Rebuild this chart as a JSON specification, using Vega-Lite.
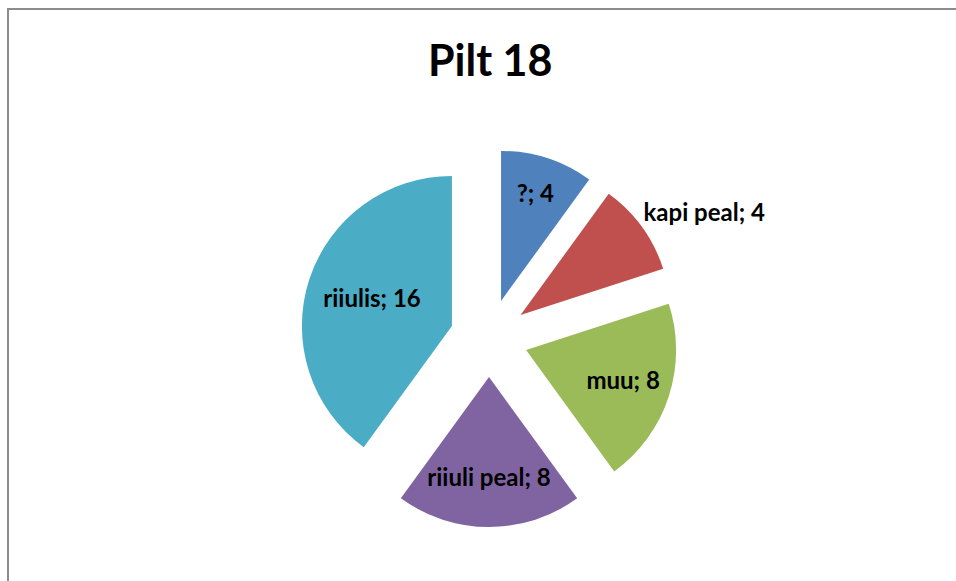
{
  "$schema": "https://vega.github.io/schema/vega-lite/v6.json",
  "width": 952,
  "height": 576,
  "autosize": {"type": "none"},
  "padding": {"left": 8, "top": 9, "right": 0, "bottom": 0},
  "background": "white",
  "title": {"text": "Pilt 18", "font": "Lato", "fontSize": 43, "fontWeight": "bold", "color": "black", "anchor": "start", "frame": "group", "baseline": "alphabetic", "offset": -110, "dx": 420},
  "config": {"view": {"stroke": "#8c8c8c", "strokeWidth": 2}},
  "data": {"values": [
    {"nr": 1, "cat": "?", "value": 4},
    {"nr": 2, "cat": "kapi peal", "value": 4},
    {"nr": 3, "cat": "muu", "value": 8},
    {"nr": 4, "cat": "riiuli peal", "value": 8},
    {"nr": 5, "cat": "riiulis", "value": 16}
  ]},
  "transform": [
    {"window": [{"op": "sum", "field": "value", "as": "t1"}], "sort": [{"field": "nr"}], "frame": [null, 0]},
    {"joinaggregate": [{"op": "sum", "field": "value", "as": "total"}]},
    {"calculate": "datum.t1 - datum.value", "as": "t0"},
    {"calculate": "2*PI*(datum.t1 - datum.value/2)/datum.total", "as": "mid"},
    {"calculate": "39*sin(datum.mid)", "as": "cx"},
    {"calculate": "39*cos(datum.mid)", "as": "cy"},
    {"calculate": "datum.cat === 'kapi peal' ? 152 : 120 - 2.25*datum.value", "as": "lr"},
    {"calculate": "datum.cx + datum.lr*sin(datum.mid)", "as": "lx"},
    {"calculate": "datum.cy + datum.lr*cos(datum.mid)", "as": "ly"},
    {"calculate": "datum.cat + '; ' + datum.value", "as": "label"}
  ],
  "layer": [
    {
      "mark": {"type": "arc", "outerRadius": 150},
      "encoding": {
        "x": {"field": "cx", "type": "quantitative", "scale": {"domain": [-481, 471], "nice": false, "zero": false}, "axis": null, "stack": null},
        "y": {"field": "cy", "type": "quantitative", "scale": {"domain": [-247, 329], "nice": false, "zero": false}, "axis": null, "stack": null},
        "theta": {"field": "t0", "type": "quantitative", "scale": {"domain": [0, 40]}, "stack": null},
        "theta2": {"field": "t1"},
        "color": {"field": "cat", "type": "nominal", "legend": null,
          "scale": {"domain": ["?", "kapi peal", "muu", "riiuli peal", "riiulis"], "range": ["#4F81BD", "#C0504D", "#9BBB59", "#8064A2", "#4BACC6"]}}
      }
    },
    {
      "transform": [{"filter": "datum.cat !== 'kapi peal'"}],
      "mark": {"type": "text", "font": "Lato", "fontSize": 24, "fontWeight": "bold", "color": "black", "align": "center", "baseline": "middle"},
      "encoding": {
        "x": {"field": "lx", "type": "quantitative", "scale": {"domain": [-481, 471], "nice": false, "zero": false}, "axis": null, "stack": null},
        "y": {"field": "ly", "type": "quantitative", "scale": {"domain": [-247, 329], "nice": false, "zero": false}, "axis": null, "stack": null},
        "text": {"field": "label", "type": "nominal"}
      }
    },
    {
      "transform": [{"filter": "datum.cat === 'kapi peal'"}],
      "mark": {"type": "text", "font": "Lato", "fontSize": 24, "fontWeight": "bold", "color": "black", "align": "left", "baseline": "bottom"},
      "encoding": {
        "x": {"field": "lx", "type": "quantitative", "scale": {"domain": [-481, 471], "nice": false, "zero": false}, "axis": null, "stack": null},
        "y": {"field": "ly", "type": "quantitative", "scale": {"domain": [-247, 329], "nice": false, "zero": false}, "axis": null, "stack": null},
        "text": {"field": "label", "type": "nominal"}
      }
    }
  ]
}
